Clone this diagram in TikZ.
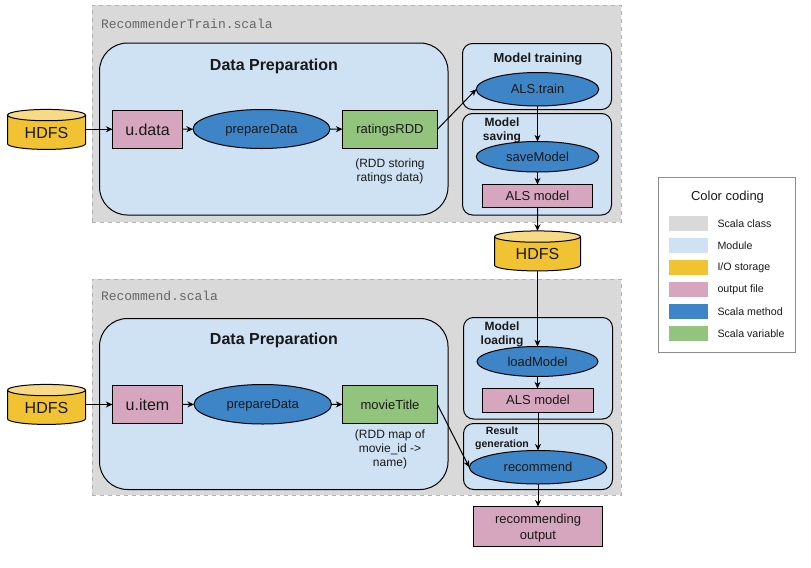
\documentclass[tikz,border=0pt]{standalone}
\usepackage{fontspec}
\setmainfont{Liberation Sans}
\setmonofont{Liberation Mono}
\usetikzlibrary{shapes.geometric,arrows.meta}
\definecolor{classgray}{HTML}{D9D9D9}
\definecolor{modblue}{HTML}{CFE2F3}
\definecolor{storeyellow}{HTML}{F1C232}
\definecolor{storetop}{HTML}{F7DA83}
\definecolor{filepink}{HTML}{D5A6BD}
\definecolor{methodblue}{HTML}{3D85C6}
\definecolor{vargreen}{HTML}{93C47D}
\tikzset{
	size/.style 2 args={minimum width=#1*0.75pt, minimum height=#2*0.75pt},
	every node/.style={inner sep=0pt, outer sep=0pt, align=center, text=black!90},
	classbox/.style={draw=black!30, dashed, fill=classgray, line width=0.75pt},
	modbox/.style={draw=black, fill=modblue, line width=0.75pt, rounded corners=#1*0.75pt},
	modbox/.default=10,
	storage/.style={cylinder, shape border rotate=90, draw=black, line width=0.75pt, aspect=0.26,
		cylinder uses custom fill, cylinder body fill=storeyellow, cylinder end fill=storetop,
		font=\fontsize{12}{14}\selectfont},
	filebox/.style={rectangle, draw=black, fill=filepink, line width=0.75pt, text depth=-1.5pt, font=\fontsize{9.75}{13.5}\selectfont},
	bigfile/.style={filebox, text depth=-2.5pt, font=\fontsize{12}{14}\selectfont},
	outputbox/.style={rectangle, draw=black, fill=filepink, line width=0.75pt, font=\fontsize{9.75}{12}\selectfont},
	varbox/.style={rectangle, draw=black, fill=vargreen, line width=0.75pt, text depth=-1.5pt, font=\fontsize{9.75}{12}\selectfont},
	method/.style={ellipse, draw=black, fill=methodblue, line width=0.75pt, text depth=-1.5pt, font=\fontsize{9.75}{12}\selectfont},
	flow/.style={-{Stealth[length=5pt,width=4.5pt]}, line width=0.75pt},
	scalaname/.style={anchor=west, text=black!60, font=\ttfamily\fontsize{9.75}{12}\selectfont},
	title/.style={font=\bfseries\fontsize{12}{14}\selectfont},
	subtitle/.style={font=\bfseries\fontsize{9}{10.5}\selectfont},
	note/.style={font=\fontsize{9}{10.5}\selectfont},
	swatch/.style={size={39}{15.5}, fill=#1}
}
\begin{document}
\begin{tikzpicture}[x=0.75pt,y=-0.75pt]
	\useasboundingbox (0,0) rectangle (811,568);
	% scala classes
	\node[classbox, size={529}{217}] (trainclass) at (356.5,113.5) {};
	\node[classbox, size={529}{216}] (recclass) at (356.5,387) {};
	\node[scalaname] (trainname) at (101,24) {RecommenderTrain.scala};
	\node[scalaname] (recname) at (101,296) {Recommend.scala};
	% modules
	\node[modbox=28, size={348.5}{172}] (prep1) at (273.75,129) {};
	\node[modbox=28, size={348.5}{171}] (prep2) at (273.75,404) {};
	\node[modbox, size={149}{66}] (trainmod) at (537,76.5) {};
	\node[modbox, size={149}{101.5}] (savemod) at (537,164.25) {};
	\node[modbox, size={149}{101.5}] (loadmod) at (538,368.25) {};
	\node[modbox, size={149}{66}] (resmod) at (538,456.5) {};
	\node[title] (prep1title) at (274,66) {Data Preparation};
	\node[title] (prep2title) at (274,340) {Data Preparation};
	\node[font=\bfseries\fontsize{9.75}{12}\selectfont] (traintitle) at (538,59) {Model training};
	\node[subtitle] (savetitle) at (502,130) {Model\\saving};
	\node[subtitle] (loadtitle) at (502,334) {Model\\loading};
	\node[font=\bfseries\fontsize{7.9}{9.8}\selectfont] (restitle) at (502,438.5) {Result\\generation};
	% top row
	\node[storage, size={78}{40}] (hdfs1) at (46.5,132.5) {HDFS};
	\node[bigfile, size={70}{37.5}] (udata) at (147.5,129.25) {u.data};
	\node[method, size={137}{39}] (prepare1) at (261.5,129) {prepareData};
	\node[varbox, size={95}{37.5}] (ratings) at (390,129.25) {ratingsRDD};
	\node[note] (ratingsnote) at (390,171) {(RDD storing\\ratings data)};
	\node[method, size={122.5}{33.5}] (alstrain) at (537.5,89.25) {ALS.train};
	\node[method, size={122.5}{30.5}] (savemodel) at (537.5,156.75) {saveModel};
	\node[filebox, size={110}{23}] (alsmodel1) at (537.5,196) {ALS model};
	\node[storage, size={86}{40}] (hdfsmid) at (537.5,254) {HDFS};
	% bottom row
	\node[storage, size={78}{40}] (hdfs2) at (46.5,407.5) {HDFS};
	\node[bigfile, size={70}{38}] (uitem) at (147.5,404.5) {u.item};
	\node[method, size={137.5}{39.5}] (prepare2) at (262.75,404.25) {prepareData};
	\node[varbox, size={95}{38}] (movietitle) at (390,404.5) {movieTitle};
	\node[note] (movienote) at (390,449.5) {(RDD map of\\movie\_id ->\\name)};
	\node[method, size={121}{30}] (loadmodel) at (537.5,361.5) {loadModel};
	\node[filebox, size={111}{23.5}] (alsmodel2) at (538,400.25) {ALS model};
	\node[method, size={137.5}{33.5}] (recommend) at (538,467.25) {recommend};
	\node[outputbox, size={129}{40}] (output) at (538,526.5) {\rule{0pt}{10pt}recommending\\output};
	% connectors
	\draw[flow] (hdfs1.east |- udata.west) -- (udata.west);
	\draw[flow] (udata) -- (prepare1);
	\draw[flow] (prepare1) -- (ratings);
	\draw[flow] (ratings.east) -- (alstrain.west);
	\draw[flow] (alstrain) -- (savemodel);
	\draw[flow] (savemodel) -- (alsmodel1);
	\draw[flow] (alsmodel1) -- (hdfsmid.north);
	\draw[flow] (hdfsmid.south) -- (loadmodel.north);
	\draw[flow] (loadmodel.south) -- (loadmodel.south |- alsmodel2.north);
	\draw[flow] (alsmodel2) -- (recommend);
	\draw[flow] (recommend) -- (output);
	\draw[flow] (hdfs2.east |- uitem.west) -- (uitem.west);
	\draw[flow] (uitem) -- (prepare2);
	\draw[flow] (prepare2) -- (movietitle);
	\draw[flow] (movietitle.east) -- (recommend.west);
	% color legend
	\node[draw=black!45, line width=0.75pt, size={137}{175}] (legend) at (727,265) {};
	\node[font=\fontsize{9.75}{12}\selectfont] (legendtitle) at (727.5,197) {Color coding};
	\foreach \name/\col/\ypos/\lab in {a/classgray/223.5/Scala class, b/modblue/245.5/Module,
		c/storeyellow/267.5/I\slash O storage, d/filepink/289.5/output file,
		e/methodblue/311.5/Scala method, f/vargreen/333.5/Scala variable}{
		\node[swatch=\col] (swatch\name) at (688.5,\ypos) {};
		\node[anchor=west, font=\fontsize{8}{10}\selectfont] (text\name) at (717.5,\ypos+0.5) {\lab};
	}
\end{tikzpicture}
\end{document}
